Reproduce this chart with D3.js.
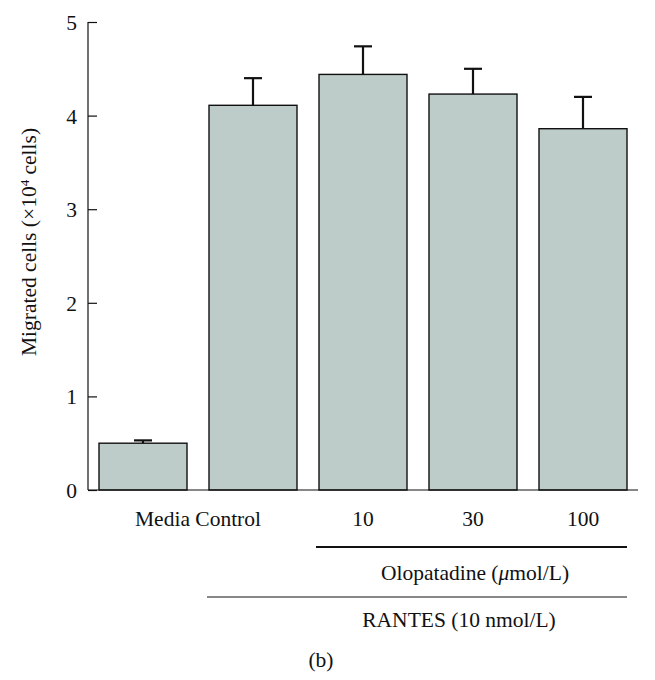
<!DOCTYPE html>
<html><head><meta charset="utf-8">
<script src="https://cdn.jsdelivr.net/npm/d3@7"></script>
<style>body{margin:0;background:#fff;} svg{display:block;} text{font-family:"Liberation Serif","DejaVu Serif",serif;fill:#111;}</style>
</head><body>
<svg id="chart" width="655" height="680"></svg>
<script>
const groups = ["media", "rantes", "olo10", "olo30", "olo100"];
const means = [0.50, 4.11, 4.44, 4.23, 3.86];
const errors = [0.03, 0.29, 0.30, 0.27, 0.34];
const yTicks = [0, 1, 2, 3, 4, 5];
const doseLabels = ["10", "30", "100"];

const svg = d3.select("#chart");
const x = d3.scaleBand().domain(groups).range([88, 638]).paddingInner(0.2).paddingOuter(0.1);
const y = d3.scaleLinear().domain([0, 5]).range([490, 22]);
const fs = 21.5;

// bars
svg.selectAll("rect.bar").data(groups).join("rect")
  .attr("x", d => x(d)).attr("width", x.bandwidth())
  .attr("y", (d,i) => y(means[i])).attr("height", (d,i) => y(0) - y(means[i]))
  .attr("fill", "#bdcbc9").attr("stroke", "#111").attr("stroke-width", 1.4);

// error bars
const cap = 9;
svg.selectAll("line.err").data(groups).join("line")
  .attr("x1", d => x(d) + x.bandwidth()/2).attr("x2", d => x(d) + x.bandwidth()/2)
  .attr("y1", (d,i) => y(means[i])).attr("y2", (d,i) => y(means[i] + errors[i]))
  .attr("stroke", "#111").attr("stroke-width", 2.2);
svg.selectAll("line.cap").data(groups).join("line")
  .attr("x1", d => x(d) + x.bandwidth()/2 - cap).attr("x2", d => x(d) + x.bandwidth()/2 + cap)
  .attr("y1", (d,i) => y(means[i] + errors[i])).attr("y2", (d,i) => y(means[i] + errors[i]))
  .attr("stroke", "#111").attr("stroke-width", 2.2);

// y axis
const yAxis = d3.axisRight(y).tickValues(yTicks).tickSize(9).tickFormat(d3.format("d"));
const yg = svg.append("g").attr("transform", "translate(88,0)").call(yAxis);
yg.select(".domain").attr("stroke", "#111").attr("stroke-width", 1.2).attr("d", `M0,${y(5)}V${y(0)}`);
yg.selectAll(".tick line").attr("stroke", "#111").attr("stroke-width", 1.2);
yg.selectAll(".tick text").attr("x", -11).attr("text-anchor", "end").attr("dy", "0.35em")
  .style("font-size", fs + "px").style("font-family", '"Liberation Serif",serif').attr("fill", "#111");

// x axis baseline
svg.append("line").attr("x1", 88).attr("x2", 638).attr("y1", y(0)).attr("y2", y(0))
  .attr("stroke", "#111").attr("stroke-width", 1.2);

// y label
svg.append("text").attr("transform", `translate(36,242) rotate(-90)`)
  .attr("text-anchor", "middle").style("font-size", fs + "px")
  .html('Migrated cells (×10<tspan baseline-shift="super" font-size="13px">4</tspan> cells)');

// x labels
const cx = d => x(d) + x.bandwidth()/2;
svg.append("text").attr("x", (cx("media") + cx("rantes"))/2).attr("y", 526)
  .attr("text-anchor", "middle").style("font-size", fs + "px").text("Media Control");
svg.selectAll("text.dose").data(doseLabels).join("text")
  .attr("x", (d,i) => cx(groups[i+2])).attr("y", 526)
  .attr("text-anchor", "middle").style("font-size", fs + "px").text(d => d);

// group lines
svg.append("line").attr("x1", 316).attr("x2", 627).attr("y1", 547).attr("y2", 547)
  .attr("stroke", "#111").attr("stroke-width", 2);
svg.append("text").attr("x", 475).attr("y", 580).attr("text-anchor", "middle").style("font-size", fs + "px")
  .html('Olopatadine (<tspan font-style="italic">μ</tspan>mol/L)');
svg.append("line").attr("x1", 207).attr("x2", 627).attr("y1", 597).attr("y2", 597)
  .attr("stroke", "#111").attr("stroke-width", 1);
svg.append("text").attr("x", 459).attr("y", 627).attr("text-anchor", "middle").style("font-size", fs + "px")
  .text("RANTES (10 nmol/L)");
svg.append("text").attr("x", 321).attr("y", 667).attr("text-anchor", "middle").style("font-size", fs + "px")
  .text("(b)");
</script>
</body></html>
